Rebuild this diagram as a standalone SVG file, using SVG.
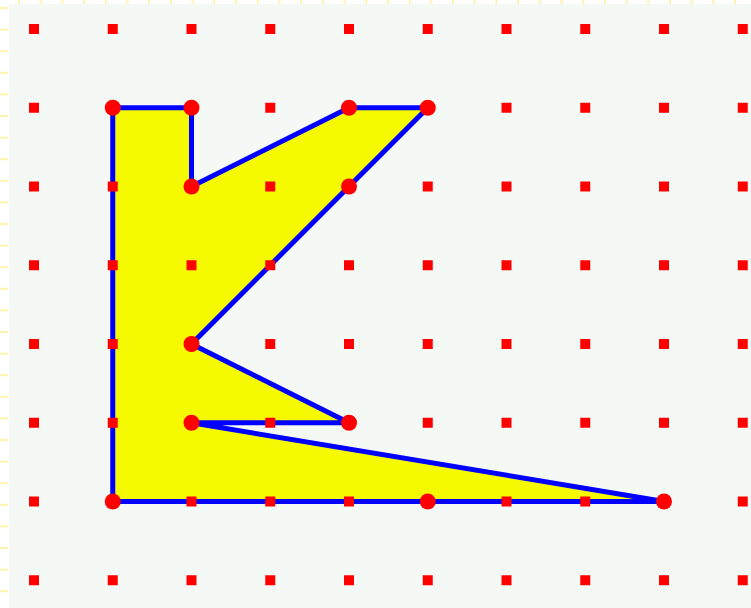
<svg xmlns="http://www.w3.org/2000/svg" width="751" height="608" viewBox="0 0 751 608">
<defs>
<style>
.dot{fill:#ff0000}
.big{fill:#ff0000}
.shape{fill:#f6fa00;stroke:#0000ff;stroke-width:5;stroke-linejoin:bevel}
.tick{stroke:#fff3b0;stroke-width:2}
</style>
<rect id="s" x="-5" y="-5" width="10" height="10" class="dot"/>
<pattern id="lt" x="0" y="7" width="10" height="21.6" patternUnits="userSpaceOnUse"><line x1="0" y1="1" x2="8" y2="1" class="tick"/></pattern>
<pattern id="tt" x="18" y="0" width="21.7" height="5" patternUnits="userSpaceOnUse"><line x1="1" y1="0" x2="1" y2="4" class="tick"/></pattern>
</defs>
<rect x="0" y="0" width="751" height="608" fill="#ffffff"/>
<rect x="0" y="0" width="9" height="608" fill="url(#lt)"/>
<rect x="9" y="0" width="742" height="4" fill="url(#tt)"/>
<rect x="9" y="4" width="742" height="604" fill="#f5f9f6"/>
<g id="polygon">
<polygon class="shape" points="112.75,107.75 191.5,107.75 191.5,186.5 349,107.75 427.75,107.75 191.5,344 349,422.75 191.5,422.75 664,501.5 112.75,501.5"/>
</g>
<g id="grid">
<g id="r0"><use href="#s" x="34" y="29"/><use href="#s" x="112.75" y="29"/><use href="#s" x="191.5" y="29"/><use href="#s" x="270.25" y="29"/><use href="#s" x="349" y="29"/><use href="#s" x="427.75" y="29"/><use href="#s" x="506.5" y="29"/><use href="#s" x="585.25" y="29"/><use href="#s" x="664" y="29"/><use href="#s" x="742.75" y="29"/></g>
<g id="r1"><use href="#s" x="34" y="107.75"/><use href="#s" x="112.75" y="107.75"/><use href="#s" x="191.5" y="107.75"/><use href="#s" x="270.25" y="107.75"/><use href="#s" x="349" y="107.75"/><use href="#s" x="427.75" y="107.75"/><use href="#s" x="506.5" y="107.75"/><use href="#s" x="585.25" y="107.75"/><use href="#s" x="664" y="107.75"/><use href="#s" x="742.75" y="107.75"/></g>
<g id="r2"><use href="#s" x="34" y="186.5"/><use href="#s" x="112.75" y="186.5"/><use href="#s" x="191.5" y="186.5"/><use href="#s" x="270.25" y="186.5"/><use href="#s" x="349" y="186.5"/><use href="#s" x="427.75" y="186.5"/><use href="#s" x="506.5" y="186.5"/><use href="#s" x="585.25" y="186.5"/><use href="#s" x="664" y="186.5"/><use href="#s" x="742.75" y="186.5"/></g>
<g id="r3"><use href="#s" x="34" y="265.25"/><use href="#s" x="112.75" y="265.25"/><use href="#s" x="191.5" y="265.25"/><use href="#s" x="270.25" y="265.25"/><use href="#s" x="349" y="265.25"/><use href="#s" x="427.75" y="265.25"/><use href="#s" x="506.5" y="265.25"/><use href="#s" x="585.25" y="265.25"/><use href="#s" x="664" y="265.25"/><use href="#s" x="742.75" y="265.25"/></g>
<g id="r4"><use href="#s" x="34" y="344"/><use href="#s" x="112.75" y="344"/><use href="#s" x="191.5" y="344"/><use href="#s" x="270.25" y="344"/><use href="#s" x="349" y="344"/><use href="#s" x="427.75" y="344"/><use href="#s" x="506.5" y="344"/><use href="#s" x="585.25" y="344"/><use href="#s" x="664" y="344"/><use href="#s" x="742.75" y="344"/></g>
<g id="r5"><use href="#s" x="34" y="422.75"/><use href="#s" x="112.75" y="422.75"/><use href="#s" x="191.5" y="422.75"/><use href="#s" x="270.25" y="422.75"/><use href="#s" x="349" y="422.75"/><use href="#s" x="427.75" y="422.75"/><use href="#s" x="506.5" y="422.75"/><use href="#s" x="585.25" y="422.75"/><use href="#s" x="664" y="422.75"/><use href="#s" x="742.75" y="422.75"/></g>
<g id="r6"><use href="#s" x="34" y="501.5"/><use href="#s" x="112.75" y="501.5"/><use href="#s" x="191.5" y="501.5"/><use href="#s" x="270.25" y="501.5"/><use href="#s" x="349" y="501.5"/><use href="#s" x="427.75" y="501.5"/><use href="#s" x="506.5" y="501.5"/><use href="#s" x="585.25" y="501.5"/><use href="#s" x="664" y="501.5"/><use href="#s" x="742.75" y="501.5"/></g>
<g id="r7"><use href="#s" x="34" y="580.25"/><use href="#s" x="112.75" y="580.25"/><use href="#s" x="191.5" y="580.25"/><use href="#s" x="270.25" y="580.25"/><use href="#s" x="349" y="580.25"/><use href="#s" x="427.75" y="580.25"/><use href="#s" x="506.5" y="580.25"/><use href="#s" x="585.25" y="580.25"/><use href="#s" x="664" y="580.25"/><use href="#s" x="742.75" y="580.25"/></g>
</g>
<g id="vertices">
<circle class="big" cx="112.75" cy="107.75" r="8"/>
<circle class="big" cx="191.5" cy="107.75" r="8"/>
<circle class="big" cx="349" cy="107.75" r="8"/>
<circle class="big" cx="427.75" cy="107.75" r="8"/>
<circle class="big" cx="191.5" cy="186.5" r="8"/>
<circle class="big" cx="349" cy="186.5" r="8"/>
<circle class="big" cx="191.5" cy="344" r="8"/>
<circle class="big" cx="191.5" cy="422.75" r="8"/>
<circle class="big" cx="349" cy="422.75" r="8"/>
<circle class="big" cx="112.75" cy="501.5" r="8"/>
<circle class="big" cx="427.75" cy="501.5" r="8"/>
<circle class="big" cx="664" cy="501.5" r="8"/>
</g>
</svg>
